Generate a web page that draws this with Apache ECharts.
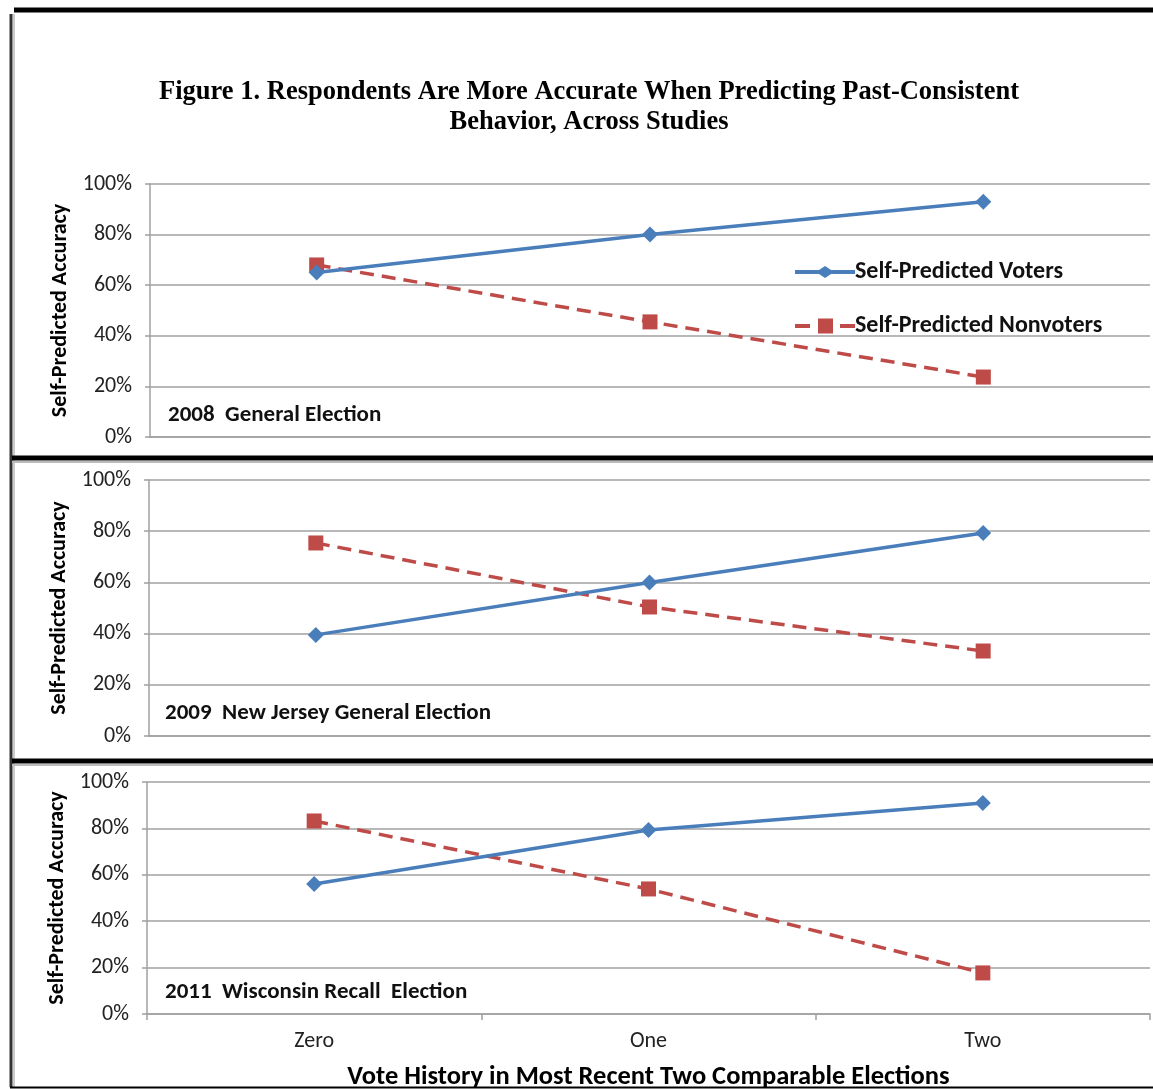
<!DOCTYPE html>
<html>
<head>
<meta charset="utf-8">
<style>
  html, body { margin: 0; padding: 0; background: #fff; }
  #chart { width: 1153px; height: 1089px; }
</style>
<script src="https://cdn.jsdelivr.net/npm/echarts@6/dist/echarts.min.js"></script>
</head>
<body>
<div id="chart"></div>
<script>
// Vote history categories (x axis)
const categories = ['Zero', 'One', 'Two'];

// Accuracy by study (fractions of 1)
const studies = ['2008  General Election', '2009  New Jersey General Election', '2011  Wisconsin Recall  Election'];
const voters2008 = [0.65, 0.80, 0.93];
const nonvoters2008 = [0.68, 0.455, 0.237];
const voters2009 = [0.395, 0.60, 0.793];
const nonvoters2009 = [0.754, 0.504, 0.332];
const voters2011 = [0.56, 0.793, 0.909];
const nonvoters2011 = [0.832, 0.539, 0.177];

const seriesNames = ['Self-Predicted Voters', 'Self-Predicted Nonvoters'];

const votersByStudy = [voters2008, voters2009, voters2011];
const nonvotersByStudy = [nonvoters2008, nonvoters2009, nonvoters2011];

const BLUE = '#4a7ebb';
const RED = '#be4b48';
const GRID = '#a0a0a0';
const SANS = 'Carlito, Lato, "Open Sans", sans-serif';
const SERIF = '"Liberation Serif", "DejaVu Serif", serif';

// legend glyphs: solid line with diamond, dashed line with square (60 x 15 box)
const ICON_VOTERS = 'path://M0,5.5H24L30,1.5L36,5.5H60V9.5H36L30,13.5L24,9.5H0Z';
const ICON_NONVOTERS = 'path://M0,5.5H15V9.5H0Z M23,0H38V15H23Z M45,5.5H60V9.5H45Z';

// panel layout: plot rectangles
const panels = [
  { left: 150, top: 184, height: 253 },
  { left: 149, top: 480, height: 256 },
  { left: 147, top: 782, height: 232 }
];

const grids = [], xAxes = [], yAxes = [], series = [];
panels.forEach((p, i) => {
  grids.push({ left: p.left, top: p.top, height: p.height, right: 3, outerBoundsMode: 'none', containLabel: false });
  const last = i === panels.length - 1;
  xAxes.push({
    type: 'category', gridIndex: i, data: categories, boundaryGap: true,
    axisLine: { show: true, lineStyle: { color: GRID, width: 1.5 } },
    axisTick: { show: last, length: 6, lineStyle: { color: GRID, width: 1.5 } },
    axisLabel: { show: last, color: '#222', fontFamily: SANS, fontSize: 22, margin: 16 },
    name: last ? 'Vote History in Most Recent Two Comparable Elections' : '',
    nameLocation: 'middle', nameGap: 50,
    nameTextStyle: { fontFamily: SANS, fontWeight: 'bold', fontSize: 26.5, color: '#000' }
  });
  yAxes.push({
    type: 'value', gridIndex: i, min: 0, max: 1, interval: 0.2,
    axisLine: { show: true, lineStyle: { color: GRID, width: 1.5 } },
    axisTick: { show: true, length: 5, lineStyle: { color: GRID, width: 1.5 } },
    splitLine: { show: true, lineStyle: { color: GRID, width: 1.5 } },
    axisLabel: {
      color: '#222', fontFamily: SANS, fontSize: 22, margin: 18,
      formatter: v => Math.round(v * 100) + '%'
    },
    name: 'Self-Predicted Accuracy', nameLocation: 'middle', nameRotate: 90, nameGap: 77,
    nameTextStyle: { fontFamily: SANS, fontWeight: 'bold', fontSize: 22, color: '#000' }
  });
  series.push({
    name: seriesNames[0], type: 'line', xAxisIndex: i, yAxisIndex: i,
    data: votersByStudy[i], symbol: 'diamond', symbolSize: 16,
    lineStyle: { color: BLUE, width: 3.5 }, itemStyle: { color: BLUE },
    z: 3
  });
  series.push({
    name: seriesNames[1], type: 'line', xAxisIndex: i, yAxisIndex: i,
    data: nonvotersByStudy[i], symbol: 'rect', symbolSize: 15,
    lineStyle: { color: RED, width: 3.5, type: [14, 8] }, itemStyle: { color: RED },
    z: 2
  });
});

// study captions and frame
const graphics = [];
const captionPos = [[168, 414], [165, 712], [165, 991]];
studies.forEach((s, i) => {
  graphics.push({
    type: 'text', left: captionPos[i][0], top: captionPos[i][1] - 10,
    style: { text: s, fontFamily: SANS, fontWeight: 'bold', fontSize: 23, fill: '#111' }
  });
});
// outer frame
graphics.push({ type: 'line', shape: { x1: 14, y1: 10, x2: 1153, y2: 10 }, style: { stroke: '#000', lineWidth: 5 } });
graphics.push({ type: 'line', shape: { x1: 11, y1: 14, x2: 11, y2: 1087 }, style: { stroke: '#333', lineWidth: 3 } });
graphics.push({ type: 'line', shape: { x1: 14, y1: 14, x2: 14, y2: 1087 }, style: { stroke: '#bbb', lineWidth: 1.5 } });
graphics.push({ type: 'line', shape: { x1: 10, y1: 1087.5, x2: 1153, y2: 1087.5 }, style: { stroke: '#000', lineWidth: 2 } });
// panel separators
[458, 761].forEach(y => {
  graphics.push({ type: 'line', shape: { x1: 12, y1: y, x2: 1153, y2: y }, style: { stroke: '#000', lineWidth: 5 } });
  graphics.push({ type: 'line', shape: { x1: 12, y1: y + 4, x2: 1153, y2: y + 4 }, style: { stroke: '#bbb', lineWidth: 2 } });
});

const chart = echarts.init(document.getElementById('chart'), null, { renderer: 'canvas' });
chart.setOption({
  animation: false,
  backgroundColor: '#fff',
  title: {
    text: 'Figure 1. Respondents Are More Accurate When Predicting Past-Consistent\nBehavior, Across Studies',
    left: 584, top: 72, textAlign: 'center',
    textStyle: { fontFamily: SERIF, fontWeight: 'bold', fontSize: 26.5, lineHeight: 30, color: '#000' }
  },
  legend: {
    data: [
      { name: seriesNames[0], icon: ICON_VOTERS },
      { name: seriesNames[1], icon: ICON_NONVOTERS }
    ],
    orient: 'vertical', left: 790, top: 255,
    itemWidth: 60, itemHeight: 15, itemGap: 30,
    textStyle: { fontFamily: SANS, fontWeight: 'bold', fontSize: 24, color: '#111', padding: [0, 0, 0, -5] }
  },
  grid: grids, xAxis: xAxes, yAxis: yAxes, series: series,
  graphic: graphics
});
</script>
</body>
</html>
